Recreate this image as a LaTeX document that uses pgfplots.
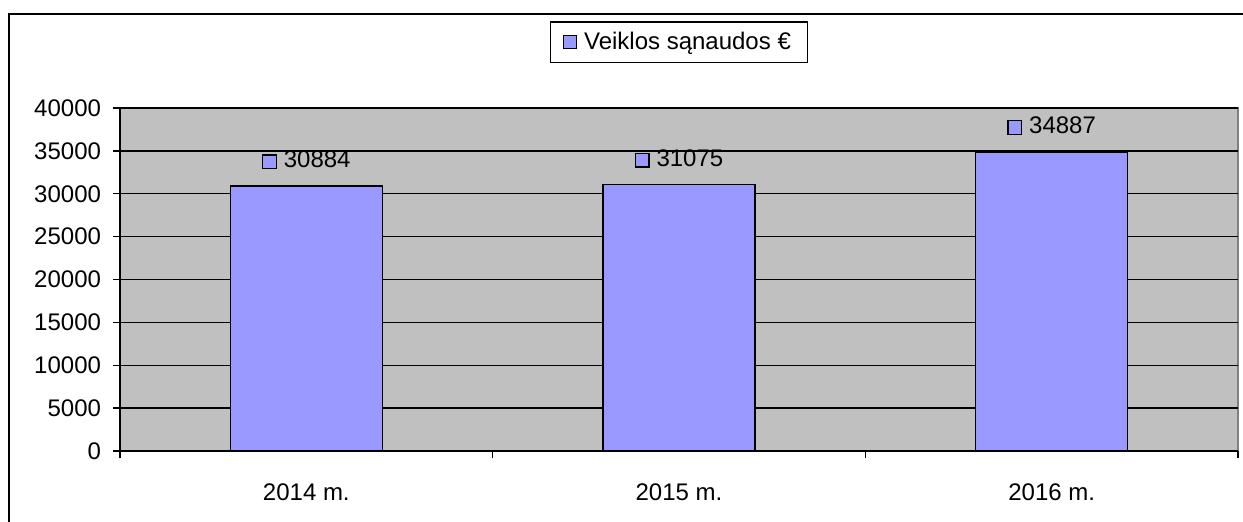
\documentclass[border=0pt]{standalone}
\usepackage{pgfplots}
\pgfplotsset{compat=1.18}
\usepackage{fontspec}
\setmainfont{Liberation Sans}
\definecolor{barc}{HTML}{9999FF}
\definecolor{bgc}{HTML}{C0C0C0}
\definecolor{frc}{HTML}{808080}
\setlength{\fboxsep}{0pt}
\setlength{\fboxrule}{0.6bp}
\newcommand{\fs}{\fontsize{12bp}{14bp}\selectfont}
\begin{document}
\begin{tikzpicture}
\draw[line width=1.1bp] (-55.5bp,-80bp) rectangle (620bp,218.5bp);
\begin{axis}[
  at={(0,0)}, anchor=south west,
  scale only axis, width=559bp, height=171.5bp,
  xmin=-0.5, xmax=2.5, ymin=0, ymax=40000,
  ytick={0,5000,...,40000},
  scaled y ticks=false,
  xtick={-0.5,0.5,1.5,2.5},
  xticklabels={2014 m.,2015 m.,2016 m.,},
  xticklabel style={anchor=north, xshift=93.17bp, yshift=-9.5bp},
  yticklabel style={anchor=east, xshift=-2.5bp},
  ymajorgrids,
  major grid style={black, line width=0.7bp},
  axis x line*=bottom, axis y line*=left,
  axis line style={black, line width=0.7bp},
  axis background/.style={fill=bgc, draw=frc, line width=0.6bp},
  tick align=outside,
  major tick length=3.5bp,
  tick style={black, line width=0.7bp},
  ticklabel style={font=\fs},
  /pgf/number format/1000 sep={},
  /pgf/number format/assume math mode=true,
  ybar, bar width=76bp,
  legend style={at={(0.5,1)}, anchor=south, yshift=22.5bp, draw=black, line width=0.6bp, font=\fs, inner xsep=6.5bp, inner ysep=3bp,
    /tikz/every odd column/.append style={column sep=1.5bp}},
  legend image code/.code={\draw[fill=barc, draw=black, line width=0.6bp] (0bp,-3.2bp) rectangle (6.4bp,3.2bp);},
]
\addplot[fill=barc, draw=black, line width=0.7bp,
  nodes near coords={\fcolorbox{black}{barc}{\phantom{\rule{6.2bp}{6.2bp}}}\hspace{3.5bp}\pgfmathprintnumber{\pgfplotspointmeta}},
  every node near coord/.append style={anchor=center, yshift=13bp, font=\fs, black},
] coordinates {(0,30884) (1,31075) (2,34887)};
\legend{Veiklos sąnaudos €}
\end{axis}
\pgfresetboundingbox
\useasboundingbox (-60bp,-35.5bp) rectangle (561.5bp,225.5bp);
\end{tikzpicture}
\end{document}
